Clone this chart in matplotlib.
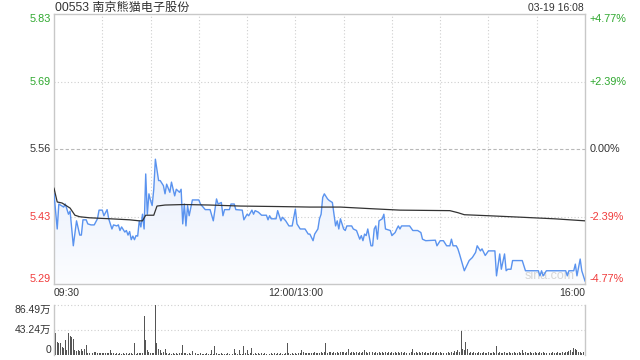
import numpy as np
import matplotlib
matplotlib.use('Agg')
import matplotlib.pyplot as plt
from matplotlib.colors import LinearSegmentedColormap
from matplotlib.transforms import blended_transform_factory

plt.rcParams['font.family'] = ['Liberation Sans', 'Noto Sans CJK SC', 'DejaVu Sans']

# ---------------- data ----------------
title = '00553 南京熊猫电子股份'
stamp = '03-19 16:08'
prev_close = 5.56

price_ticks = [5.295, 5.4275, 5.56, 5.6925, 5.825]
price_labels = ['5.29', '5.43', '5.56', '5.69', '5.83']
pct_labels = ['-4.77%', '-2.39%', '0.00%', '+2.39%', '+4.77%']

time_ticks = [0, 150, 330]          # trading minutes since 09:30
time_labels = ['09:30', '12:00/13:00', '16:00']

vol_ticks = [0, 43.24, 86.49]       # unit: 万
vol_labels = ['0', '43.24万', '86.49万']

# intraday price (trading minute, price)
minutes = [0, 2, 3, 6, 7, 9, 10, 12, 14, 16,
           17, 18, 20, 21, 23, 25, 27, 28, 30, 31,
           33, 34, 36, 37, 39, 40, 41, 42, 44, 45,
           46, 47, 48, 49, 50, 51, 52, 53, 54, 55,
           56, 57, 58, 59, 60, 61, 62, 63, 65, 66,
           68, 69, 70, 72, 73, 75, 76, 78, 79, 80,
           81, 82, 83, 84, 86, 90, 91, 94, 97, 99,
           101, 102, 104, 105, 106, 109, 110, 112, 113, 117,
           118, 120, 121, 123, 124, 125, 127, 129, 132, 133,
           134, 135, 138, 139, 141, 142, 144, 146, 148, 150,
           151, 153, 156, 158, 159, 161, 162, 164, 165, 166,
           167, 168, 170, 171, 173, 175, 176, 177, 178, 180,
           181, 182, 185, 186, 188, 190, 191, 192, 193, 194,
           195, 197, 198, 199, 200, 201, 202, 204, 205, 206,
           209, 210, 212, 213, 214, 215, 216, 221, 223, 226,
           228, 229, 231, 237, 238, 240, 242, 244, 246, 247,
           248, 250, 251, 252, 255, 258, 260, 262, 263, 265,
           266, 268, 270, 274, 275, 277, 278, 280, 281, 282,
           284, 285, 291, 293, 301, 302, 303, 304, 306, 318,
           319, 320, 323, 324, 325, 327, 328, 330]
prices = [5.472, 5.403, 5.452, 5.446, 5.452, 5.432, 5.438, 5.370, 5.419, 5.391,
          5.391, 5.421, 5.421, 5.413, 5.411, 5.411, 5.423, 5.440, 5.440, 5.429,
          5.441, 5.423, 5.403, 5.411, 5.409, 5.411, 5.400, 5.407, 5.397, 5.400,
          5.391, 5.398, 5.382, 5.389, 5.382, 5.390, 5.389, 5.419, 5.407, 5.432,
          5.403, 5.511, 5.432, 5.472, 5.459, 5.449, 5.481, 5.540, 5.498, 5.498,
          5.488, 5.472, 5.491, 5.475, 5.495, 5.468, 5.481, 5.475, 5.481, 5.413,
          5.452, 5.409, 5.449, 5.429, 5.460, 5.460, 5.452, 5.441, 5.441, 5.419,
          5.462, 5.452, 5.455, 5.429, 5.441, 5.441, 5.452, 5.452, 5.441, 5.440,
          5.421, 5.432, 5.429, 5.440, 5.432, 5.439, 5.436, 5.430, 5.430, 5.421,
          5.429, 5.423, 5.423, 5.439, 5.419, 5.426, 5.419, 5.409, 5.409, 5.442,
          5.413, 5.403, 5.403, 5.393, 5.393, 5.380, 5.393, 5.403, 5.423, 5.432,
          5.465, 5.472, 5.462, 5.459, 5.455, 5.409, 5.419, 5.403, 5.423, 5.403,
          5.400, 5.409, 5.409, 5.403, 5.400, 5.383, 5.390, 5.380, 5.393, 5.390,
          5.403, 5.370, 5.370, 5.403, 5.409, 5.383, 5.419, 5.423, 5.432, 5.403,
          5.400, 5.390, 5.396, 5.403, 5.409, 5.403, 5.409, 5.409, 5.400, 5.400,
          5.396, 5.383, 5.380, 5.381, 5.370, 5.380, 5.380, 5.370, 5.370, 5.383,
          5.370, 5.370, 5.364, 5.354, 5.321, 5.341, 5.347, 5.357, 5.370, 5.360,
          5.364, 5.351, 5.360, 5.360, 5.311, 5.354, 5.324, 5.354, 5.321, 5.324,
          5.324, 5.341, 5.341, 5.321, 5.321, 5.311, 5.321, 5.311, 5.321, 5.321,
          5.311, 5.321, 5.321, 5.334, 5.311, 5.344, 5.321, 5.301]

# average price line
avg_minutes = [0, 2, 5, 7, 10, 13, 16, 22, 35, 47, 53, 55, 57, 62, 64, 69,
               81, 97, 116, 140, 159, 178, 196, 215, 246, 251, 255, 270, 291, 311, 330]
avg_prices = [5.483, 5.456, 5.454, 5.450, 5.444, 5.430, 5.427, 5.425, 5.423, 5.421,
              5.419, 5.419, 5.430, 5.430, 5.448, 5.450, 5.451, 5.450, 5.448, 5.447,
              5.446, 5.446, 5.443, 5.440, 5.439, 5.435, 5.431, 5.429, 5.426, 5.423, 5.419]

# per-minute volume (万), minute 0..330
volumes = [26, 38.6, 23, 20, 21, 14, 11.5, 26, 8.6, 38.6,
           33, 30.5, 27.7, 8.6, 7.5, 8.6, 7, 10, 7, 10,
           17, 4, 3, 10, 4, 6, 5, 4, 3.5, 4,
           3.5, 3, 3.5, 4, 3, 8.6, 3, 3, 2.5, 3,
           2, 3, 2.5, 3, 2, 3, 2.5, 4, 3, 2.5,
           21.3, 2.5, 3, 4, 4, 3, 67.5, 26, 8.6, 5.8,
           4, 4, 3, 86.5, 20, 10, 8.6, 4, 5.8, 10,
           3, 2.5, 3, 2.5, 3, 2.5, 3, 2, 3, 4,
           17, 3, 4, 2.5, 3, 2.5, 7.5, 2.5, 3, 2,
           2.5, 3, 2, 2.5, 2, 3, 2.5, 2, 8.6, 2.5,
           15.6, 3, 2.5, 2, 3, 2, 2.5, 2, 3, 2,
           2.5, 2, 10.4, 3, 2, 8.6, 2.5, 2, 15.6, 3,
           8.6, 2.5, 3, 11.5, 2.5, 3, 2, 3, 2.5, 3,
           2.5, 3, 2, 3, 2.5, 3, 2.5, 3, 2, 3,
           2.5, 3, 2, 2.5, 3, 21.3, 3, 2.5, 3, 2.5,
           3, 2.5, 3, 4, 8.6, 5.8, 3, 4, 3, 4,
           3.5, 4, 5, 4, 3.5, 4, 5, 4, 4.5, 21.3,
           4, 5, 5.8, 4, 5.8, 4, 5, 4, 5.8, 4.5,
           5, 4, 5.8, 10, 4, 5, 4.5, 4, 5, 4,
           4.5, 4, 5, 8.6, 5.8, 4, 5, 15.6, 4.5, 4,
           5, 4, 4.5, 4, 5, 4, 4.5, 4, 5, 4,
           4.5, 4, 5, 4, 4.5, 4, 5, 4, 4.5, 4,
           5, 4, 4.5, 10.4, 4, 4.5, 4, 5, 4, 4.5,
           4, 4.5, 4, 4, 4.5, 4, 5, 4, 4.5, 4,
           4.5, 4, 4, 4.5, 4, 5, 4, 4.5, 4, 7,
           5.8, 8.6, 4.5, 42, 10, 8.6, 23, 10, 4, 4.5,
           4, 4.5, 4, 4, 4.5, 4, 4, 4.5, 4, 4,
           4.5, 4, 4, 4.5, 4, 15.6, 4, 4.5, 4, 4,
           4.5, 4, 4, 4.5, 4, 4, 4.5, 4, 4, 4.5,
           4, 8.6, 4, 4.5, 4, 4, 5.8, 4, 4, 4.5,
           4, 4, 5.8, 4, 4.5, 4, 4, 4.5, 4, 4,
           4.5, 4, 4, 5.8, 4, 4, 4.5, 4, 5, 5.8,
           7, 8.6, 5.8, 11.5, 10, 8.6, 5.8, 4.5, 4, 5.8, 17]

# ---------------- style ----------------
GREEN = '#2ea82e'
RED = '#f03a3a'
DARK = '#333333'
GRID = '#cfcfcf'
FRAME = '#c8c8c8'
BLUE = '#5a93ef'

W, H = 640, 360
fig = plt.figure(figsize=(W / 100, H / 100), dpi=100)
fig.patch.set_facecolor('white')

ax = fig.add_axes([54 / W, 1 - 284 / H, 531 / W, 270 / H])
vax = fig.add_axes([54 / W, 1 - 355 / H, 531 / W, 50 / H])

t = np.array(minutes, dtype=float)
p = np.array(prices)
ylo, yhi = price_ticks[0], price_ticks[-1]

# gradient fill under price line
poly = ax.fill_between(t, p, ylo, color='none', linewidth=0)
clip = poly.get_paths()[0]
cmap = LinearSegmentedColormap.from_list('g', ['#fcfdff', '#e8effc'])
grad = np.linspace(1, 0, 256).reshape(-1, 1)
im = ax.imshow(grad, aspect='auto', cmap=cmap, origin='upper',
               extent=[0, 330, ylo, p.max()], zorder=1)
im.set_clip_path(clip, transform=ax.transData)

ax.set_xlim(0, 330)
ax.set_ylim(ylo, yhi)

# grid
for v in price_ticks[1:-1]:
    if abs(v - prev_close) < 1e-9:
        ax.axhline(v, color='#b8b8b8', lw=0.8, ls=(0, (3, 2)), zorder=0.5)
    else:
        ax.axhline(v, color=GRID, lw=0.8, ls=(0, (1, 2)), zorder=0.5)
for m in range(30, 330, 30):
    ax.axvline(m, color=GRID, lw=0.8, ls=(0, (1, 2)), zorder=0.5)

ax.plot(t, p, color=BLUE, lw=1.0, zorder=3)
ax.plot(avg_minutes, avg_prices, color=DARK, lw=0.9, zorder=4)

ax.set_xticks([])
ax.set_yticks([])
for s in ax.spines.values():
    s.set_color(FRAME)
    s.set_linewidth(1.0)

# price axis labels
btr = blended_transform_factory(ax.transAxes, ax.transData)
for i, (v, lab, pct) in enumerate(zip(price_ticks, price_labels, pct_labels)):
    if v > prev_close + 1e-9:
        col = GREEN
    elif v < prev_close - 1e-9:
        col = RED
    else:
        col = DARK
    va = 'bottom' if i == 0 else ('top' if i == len(price_ticks) - 1 else 'center')
    ax.text(-3 / 531, v, lab, transform=btr, ha='right', va=va, fontsize=7.8, color=col)
    ax.text(1 + 5 / 531, v, pct, transform=btr, ha='left', va=va, fontsize=7.8, color=col)

# time labels
ttr = blended_transform_factory(ax.transData, ax.transAxes)
for v, lab in zip(time_ticks, time_labels):
    ha = 'left' if v == time_ticks[0] else ('right' if v == time_ticks[-1] else 'center')
    ax.text(v, -9 / 270, lab, transform=ttr, ha=ha, va='center', fontsize=7.5, color=DARK)

# watermark
ax.text(0.934, 0.006, 'sina.com', transform=ax.transAxes, ha='center', va='bottom',
        fontsize=9, color='#d6d6d6', zorder=2)

# volume panel
vax.bar(np.arange(len(volumes)), volumes, width=0.6, color='#555555', linewidth=0)
vax.set_xlim(0, 330)
vax.set_ylim(0, vol_ticks[-1])
vax.set_xticks([])
vax.set_yticks([])
for v in vol_ticks[1:]:
    vax.axhline(v, color=GRID, lw=0.8, ls=(0, (1, 2)), zorder=0.5, clip_on=False)
for k in ['top', 'bottom']:
    vax.spines[k].set_visible(False)
for k in ['left', 'right']:
    vax.spines[k].set_color(FRAME)
    vax.spines[k].set_linewidth(1.0)
vtr = blended_transform_factory(vax.transAxes, vax.transData)
for i, (v, lab) in enumerate(zip(vol_ticks, vol_labels)):
    va = 'bottom' if i == 0 else ('top' if i == len(vol_ticks) - 1 else 'center')
    vax.text(-3 / 531, v, lab, transform=vtr, ha='right', va=va, fontsize=7.5, color=DARK)

# header
fig.text(55 / W, 1 - 8 / H, title, ha='left', va='center', fontsize=8.7, color=DARK)
fig.text(584 / W, 1 - 8 / H, stamp, ha='right', va='center', fontsize=7.5, color=DARK)

fig.savefig('out.png', dpi=100, facecolor='white')
